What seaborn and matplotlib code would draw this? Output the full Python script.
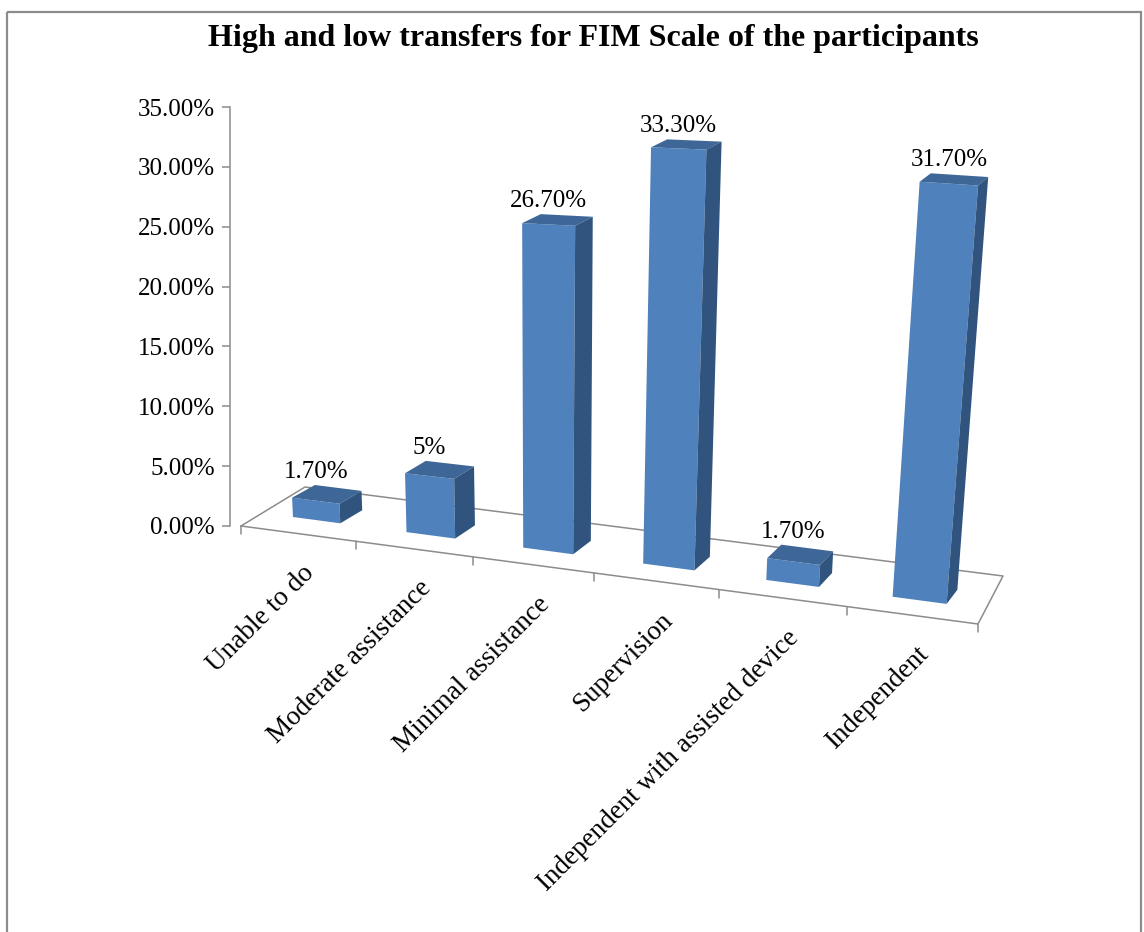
import numpy as np
import matplotlib
matplotlib.use("Agg")
import matplotlib.pyplot as plt
import matplotlib.transforms as mtransforms
from matplotlib.patches import Polygon, Rectangle
from matplotlib.lines import Line2D
import seaborn as sns
import pandas as pd

# ---------------- data ----------------
categories = ["Unable to do", "Moderate assistance", "Minimal assistance",
              "Supervision", "Independent with assisted device", "Independent"]
percentages = [1.7, 5.0, 26.7, 33.3, 1.7, 31.7]
value_labels = ["1.70%", "5%", "26.70%", "33.30%", "1.70%", "31.70%"]
y_ticks = [0, 5, 10, 15, 20, 25, 30, 35]
y_tick_labels = ["0.00%", "5.00%", "10.00%", "15.00%", "20.00%", "25.00%", "30.00%", "35.00%"]
title = "High and low transfers for FIM Scale of the participants"

# ---------------- layout / style ----------------
W, H, DPI = 1144, 932, 100
FRONT = "#4F81BD"
TOP = "#3E6696"
SIDE = "#31547E"
GREY = "#8C8C8C"

sns.set_theme(style="white")
plt.rcParams["font.family"] = ["Liberation Serif", "DejaVu Serif"]

fig = plt.figure(figsize=(W / DPI, H / DPI), dpi=DPI)
fig.patch.set_facecolor("white")

# image pixel (origin top-left) -> display
img2disp = mtransforms.Affine2D().scale(1, -1).translate(0, H).scale(1 / DPI) + fig.dpi_scale_trans


def homography(src, dst):
    A, b = [], []
    for (x, y), (u, v) in zip(src, dst):
        A.append([x, y, 1, 0, 0, 0, -u * x, -u * y]); b.append(u)
        A.append([0, 0, 0, x, y, 1, -v * x, -v * y]); b.append(v)
    h = np.linalg.solve(np.array(A, float), np.array(b, float))
    return np.append(h, 1.0).reshape(3, 3)


class Projective(mtransforms.Transform):
    """floor plane (category, depth) -> image pixels"""
    input_dims = output_dims = 2
    is_separable = False
    has_inverse = False

    def __init__(self, M):
        super().__init__()
        self.M = M

    def transform_non_affine(self, values):
        v = np.asarray(values, float).reshape(-1, 2)
        p = np.column_stack([v, np.ones(len(v))]) @ self.M.T
        return p[:, :2] / p[:, 2:3]


n = len(categories)
x_lo, x_hi = -0.5, n - 0.5


class BarPlane(mtransforms.Transform):
    """pseudo-perspective of the bar plane: (category, value %) -> image pixels"""
    input_dims = output_dims = 2
    is_separable = False
    has_inverse = False
    U0, SX, CURVE = 260.65, 120.6, 1.6
    V0, SLOPE = 512.7, 0.133
    K0, KX, KC = 11.23, 0.34, 0.017
    VP_U, VP_D = 541.0, 5400.0

    def transform_non_affine(self, values):
        v = np.asarray(values, float).reshape(-1, 2)
        x, z = v[:, 0], v[:, 1]
        q = (x - x_lo) * (x - x_hi)
        ub = self.U0 + self.SX * (x - x_lo) + self.CURVE * q
        vb = self.V0 + self.SLOPE * (ub - self.U0)
        hpx = z * (self.K0 + self.KX * (x - x_lo) - self.KC * q)
        u = ub + (ub - self.VP_U) / self.VP_D * hpx
        return np.column_stack([u, vb - hpx])


M_floor = homography([(x_lo, 0), (x_hi, 0), (x_hi, 1), (x_lo, 1)],
                     [(241, 526), (978, 624), (1003, 576), (305, 487)])
floor_proj = Projective(M_floor)
bar_proj = BarPlane()


def depth_offset(pt):
    u, v = pt
    return np.array([22 - 0.0185 * (u - 337), -(8 + 0.0135 * (v - 150))])


# y axis (library axis, value scale 0..35)
ax = fig.add_axes([230 / W, (H - 526) / H, (1010 - 230) / W, 419 / H])
ax.set_facecolor("none")

df = pd.DataFrame({"category": categories, "pct": percentages})
sns.barplot(data=df, x="category", y="pct", color=FRONT, saturation=1,
            width=0.42, ax=ax, zorder=3)

ax.set_ylim(0, 35)
ax.set_yticks(y_ticks, labels=y_tick_labels)
ax.set_xticks([])
ax.set_xlabel("")
ax.set_ylabel("")
for s in ["top", "right", "bottom"]:
    ax.spines[s].set_visible(False)
ax.spines["left"].set_color(GREY)
ax.spines["left"].set_linewidth(1.1)
ax.tick_params(axis="y", left=True, length=6, width=1.1, color=GREY,
               labelsize=18, labelcolor="black", pad=5)

# floor outline
fl = floor_proj.transform([(x_lo, 0), (x_hi, 0), (x_hi, 1), (x_lo, 1), (x_lo, 0)])
ax.add_line(Line2D(fl[:, 0], fl[:, 1], transform=img2disp, color=GREY, lw=1.1,
                   zorder=1, clip_on=False))
# category boundary ticks on the front edge
for k in range(n + 1):
    p = floor_proj.transform([(x_lo + k, 0)])[0]
    ax.add_line(Line2D([p[0], p[0]], [p[1], p[1] + 8], transform=img2disp,
                       color=GREY, lw=1.1, zorder=1, clip_on=False))

# bars: front face via the perspective transform + top and side faces
for patch, lab in zip(ax.patches, value_labels):
    x0, w, h = patch.get_x(), patch.get_width(), patch.get_height()
    patch.set_transform(bar_proj + img2disp)
    patch.set_clip_on(False)
    patch.set_edgecolor("none")
    patch.set_zorder(3)
    tl, tr, br = bar_proj.transform([(x0, h), (x0 + w, h), (x0 + w, 0)])
    otl, otr, obr = tl + depth_offset(tl), tr + depth_offset(tr), br + depth_offset(br)
    ax.add_patch(Polygon([tl, tr, otr, otl], closed=True, transform=img2disp,
                         facecolor=TOP, edgecolor="none", zorder=3, clip_on=False))
    ax.add_patch(Polygon([tr, br, obr, otr], closed=True, transform=img2disp,
                         facecolor=SIDE, edgecolor="none", zorder=3, clip_on=False))
    top_mid = (tl + tr) / 2
    ax.text(top_mid[0], min(otl[1], otr[1]) - 7, lab, transform=img2disp,
            ha="center", va="baseline", fontsize=18, color="black", zorder=4)

# category labels
for i, cat in enumerate(categories):
    p = floor_proj.transform([(i, 0)])[0]
    ax.text(p[0] + 4, p[1] + 27, cat, transform=img2disp, rotation=45,
            rotation_mode="anchor", ha="right", va="top", fontsize=19.5,
            color="black", clip_on=False)

# title
fig.text(593 / W, 1 - 46 / H, title, ha="center", va="baseline",
         fontsize=23, fontweight="bold", color="black")

# chart frame
fig.add_artist(Rectangle((7, 12), 1134, 940, transform=img2disp, fill=False,
                         edgecolor=GREY, linewidth=1.6))

fig.savefig("out.png", dpi=DPI, facecolor="white")
